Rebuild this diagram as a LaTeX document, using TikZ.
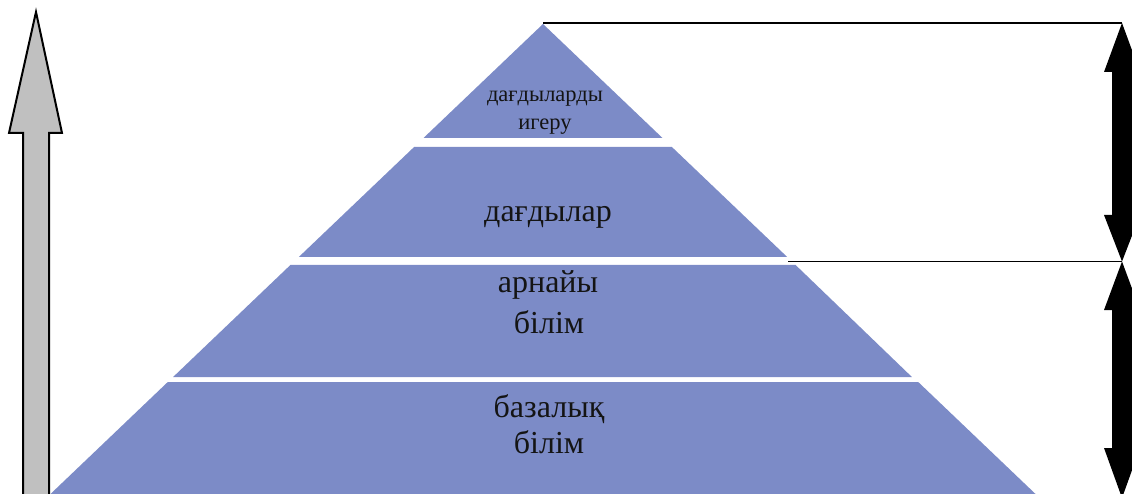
\documentclass[tikz,border=0pt]{standalone}
\usepackage{fontspec}
\setmainfont{Liberation Serif}
\definecolor{bandblue}{RGB}{124,139,199}
\definecolor{shaftgray}{RGB}{192,192,192}
\tikzset{
  layer/.style={fill=bandblue, draw=none},
  bigtext/.style={font=\fontsize{32}{38}\selectfont, anchor=base, inner sep=0pt, text=black!92},
  smalltext/.style={font=\fontsize{22.5}{26}\selectfont, anchor=base, inner sep=0pt, text=black!92},
  guide/.style={line width=1.8pt},
  growth/.style={fill=shaftgray, draw=black, line width=2pt, line join=miter},
  spanarrow/.style={fill=black, draw=none},
}
\begin{document}
\begin{tikzpicture}[x=1pt, y=-1pt]
  \useasboundingbox (0,0) rectangle (1132,494);
  \clip (0,0) rectangle (1132,494);

  % pyramid layers
  \fill[layer] (543,24) -- (662.5,138) -- (423.5,138) -- cycle;
  \fill[layer] (414.1,147) -- (671.9,147) -- (787.2,257) -- (298.8,257) -- cycle;
  \fill[layer] (290.4,265) -- (795.6,265) -- (911.9,377) -- (173.1,377) -- cycle;
  \fill[layer] (167.8,382) -- (918.2,382) -- (1041.8,500) -- (44.2,500) -- cycle;

  % layer labels
  \node[smalltext] (t1a) at (545,102) {дағдыларды};
  \node[smalltext] (t1b) at (545,130) {игеру};
  \node[bigtext] (t2) at (548,222) {дағдылар};
  \node[bigtext] (t3a) at (548,292) {арнайы};
  \node[bigtext] (t3b) at (549,333) {білім};
  \node[bigtext] (t4a) at (549,417) {базалық};
  \node[bigtext] (t4b) at (549,453) {білім};

  % upward arrow on the left
  \draw[growth] (36,12) -- (62,133) -- (49,133) -- (49,510) -- (23,510)
    -- (23,133) -- (9,133) -- cycle;

  % reference points for the range markers
  \coordinate (apex) at (543,23);
  \coordinate (step) at (788,261.5);
  \coordinate (topend) at (1122,23);
  \coordinate (midend) at (1122,261.5);
  \coordinate (lowend) at (1122,498);

  % guide lines
  \draw[guide] (apex) -- (topend);
  \draw[guide] (step) -- (midend);

  % double-headed range arrows on the right
  \fill[spanarrow] (topend) -- (1140,72) -- (1132,72) -- (1132,215) -- (1140,215)
    -- (midend) -- (1104,215) -- (1112,215) -- (1112,72) -- (1104,72) -- cycle;
  \fill[spanarrow] (midend) -- (1140,310) -- (1132,310) -- (1132,448) -- (1140,448)
    -- (lowend) -- (1104,448) -- (1112,448) -- (1112,310) -- (1104,310) -- cycle;
\end{tikzpicture}
\end{document}
